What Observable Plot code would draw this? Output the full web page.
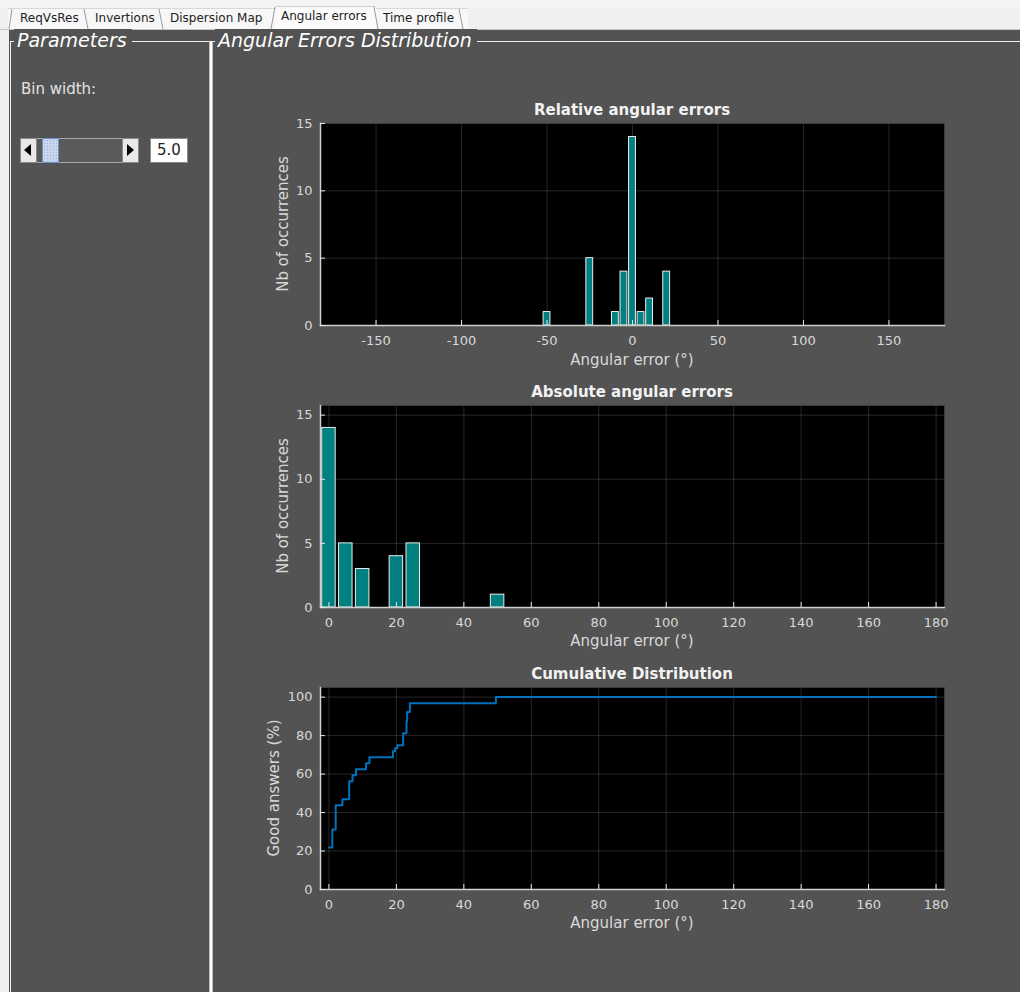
<!DOCTYPE html>
<html><head><meta charset="utf-8">
<script src="https://cdn.jsdelivr.net/npm/d3@7"></script>
<script src="https://cdn.jsdelivr.net/npm/@observablehq/plot@0.6"></script>
<style>
html,body{margin:0;padding:0;}
body{width:1020px;height:992px;position:relative;overflow:hidden;background:#efefef;font-family:"DejaVu Sans",sans-serif;}
.abs{position:absolute;}
.tab{position:absolute;top:11px;font-size:12px;color:#222;line-height:15px;white-space:nowrap;}
.ftitle{position:absolute;top:29px;font-size:19px;font-style:italic;color:#fff;line-height:23px;white-space:nowrap;background:#535353;padding:0 5px 0 3px;}
.ctitle{position:absolute;left:320px;width:624px;text-align:center;font-weight:bold;font-size:15px;color:#f2f2f2;line-height:18px;}
.xlab{position:absolute;left:320px;width:624px;text-align:center;font-size:15px;color:#d9d9d9;line-height:18px;}
.ylab{position:absolute;width:202px;text-align:center;font-size:15px;color:#d9d9d9;line-height:18px;transform:rotate(-90deg);transform-origin:center center;}
.chart{position:absolute;left:240px;}
</style>
</head><body>
<div class="abs" style="left:0;top:0;width:1020px;height:8px;background:#f4f4f4;"></div>
<div class="abs" style="left:8px;top:8px;width:460px;height:21px;background:#f7f7f7;border-top:1px solid #d8d8d8;"></div>
<div class="abs" style="left:276px;top:6px;width:100px;height:24px;background:#fbfbfb;border-top:1px solid #cfcfcf;"></div>
<div class="abs" style="left:0;top:29px;width:1020px;height:1px;background:#c8c8c8;"></div>
<svg class="abs" style="left:0;top:0" width="480" height="30">
  <g stroke="#9a9a9a" stroke-width="1" fill="none">
    <line x1="12" y1="9" x2="9" y2="29"/>
    <line x1="84" y1="9" x2="88" y2="29"/>
    <line x1="159" y1="9" x2="163" y2="29"/>
    <line x1="275" y1="7" x2="271" y2="29"/>
    <line x1="374" y1="7" x2="378" y2="29"/>
    <line x1="459" y1="9" x2="463" y2="29"/>
  </g>
</svg>
<div class="tab" style="left:20px;">ReqVsRes</div>
<div class="tab" style="left:95px;">Invertions</div>
<div class="tab" style="left:170px;">Dispersion Map</div>
<div class="tab" style="left:281px;top:9px;">Angular errors</div>
<div class="tab" style="left:383px;">Time profile</div>

<div class="abs" style="left:9px;top:30px;width:1011px;height:962px;background:#535353;"></div>
<!-- frames -->
<div class="abs" style="left:10px;top:41px;width:199px;height:1px;background:#f0f0f0;"></div>
<div class="abs" style="left:10px;top:41px;width:1px;height:951px;background:#f0f0f0;"></div>
<div class="abs" style="left:209px;top:41px;width:1px;height:951px;background:#bdbdbd;"></div>
<div class="abs" style="left:210px;top:41px;width:2px;height:951px;background:#ffffff;"></div>
<div class="abs" style="left:212px;top:41px;width:1px;height:951px;background:#bdbdbd;"></div>
<div class="abs" style="left:213px;top:41px;width:807px;height:1px;background:#f0f0f0;"></div>
<div class="ftitle" style="left:14px;">Parameters</div>
<div class="ftitle" style="left:215px;">Angular Errors Distribution</div>

<!-- parameters panel -->
<div class="abs" style="left:21px;top:80px;font-size:15px;color:#e2e2e2;line-height:18px;">Bin width:</div>
<div class="abs" style="left:37px;top:138px;width:86px;height:23px;background:#5a5a5a;border-top:1px solid #aaa;border-bottom:1px solid #aaa;"></div>
<div class="abs" style="left:20px;top:138px;width:15px;height:23px;background:#e8e8e8;border:1px solid #8a8a8a;"></div>
<div class="abs" style="left:24px;top:144px;width:0;height:0;border-top:6px solid transparent;border-bottom:6px solid transparent;border-right:7px solid #000;"></div>
<div class="abs" style="left:42px;top:138px;width:15px;height:23px;background:#c8d5ea;border:1px solid #6f8fc6;background-image:radial-gradient(#9fb2d3 1px, transparent 1px);background-size:3px 3px;"></div>
<div class="abs" style="left:122px;top:138px;width:15px;height:23px;background:#e8e8e8;border:1px solid #8a8a8a;"></div>
<div class="abs" style="left:127px;top:144px;width:0;height:0;border-top:6px solid transparent;border-bottom:6px solid transparent;border-left:7px solid #000;"></div>
<div class="abs" style="left:150px;top:138px;width:36px;height:23px;background:#fff;border:1px solid #8a8a8a;font-size:15px;color:#222;line-height:23px;text-align:center;">5.0</div>

<!-- chart titles and labels -->
<div class="ctitle" style="top:101px;">Relative angular errors</div>
<div class="ctitle" style="top:383px;">Absolute angular errors</div>
<div class="ctitle" style="top:665px;">Cumulative Distribution</div>
<div class="xlab" style="top:351px;">Angular error (°)</div>
<div class="xlab" style="top:632px;">Angular error (°)</div>
<div class="xlab" style="top:914px;">Angular error (°)</div>
<div class="ylab" style="left:182px;top:215px;">Nb of occurrences</div>
<div class="ylab" style="left:182px;top:497px;">Nb of occurrences</div>
<div class="ylab" style="left:173px;top:779px;">Good answers (%)</div>

<div id="c1" class="chart" style="top:113px;"></div>
<div id="c2" class="chart" style="top:395px;"></div>
<div id="c3" class="chart" style="top:677px;"></div>

<script>
// ---- data ----
const binWidth = 5;
const relCenters = [-50, -25, -10, -5, 0, 5, 10, 20];
const relCounts  = [1, 5, 1, 4, 14, 1, 2, 4];
const absCenters = [0, 5, 10, 20, 25, 50];
const absCounts  = [14, 5, 3, 4, 5, 1];
const cumError   = [0, 1, 2, 4, 6, 7, 8, 11, 12, 19, 19.6, 20.3, 22, 23, 23.2, 24, 49.5, 180];
const cumPercent = [21.875, 31.25, 43.75, 46.875, 56.25, 59.375, 62.5, 65.625, 68.75, 71.875, 73.4, 75, 81.25, 87.5, 92.3, 96.875, 100, 100];
const relXTicks = [-150, -100, -50, 0, 50, 100, 150];
const absXTicks = [0, 20, 40, 60, 80, 100, 120, 140, 160, 180];
const countYTicks = [0, 5, 10, 15];
const pctYTicks = [0, 20, 40, 60, 80, 100];

const relData = relCenters.map((c, i) => ({center: c, count: relCounts[i]}));
const absData = absCenters.map((c, i) => ({center: c, count: absCounts[i]}));
const cumData = cumError.map((e, i) => ({err: e, pct: cumPercent[i]}));
const half = binWidth * 0.8 / 2;
const fmt = d => String(d);

function chart(el, {xDomain, yDomain, xTicks, yTicks, marks}) {
  const svg = Plot.plot({
    width: 724, height: 257,
    marginLeft: 80, marginRight: 20, marginTop: 10, marginBottom: 45,
    style: {background: "transparent", color: "#d9d9d9", fontFamily: "DejaVu Sans", fontSize: "13px", overflow: "visible"},
    x: {domain: xDomain},
    y: {domain: yDomain},
    marks: [
      Plot.frame({fill: "black"}),
      Plot.gridX(xTicks, {stroke: "#ffffff", strokeOpacity: 0.15}),
      Plot.gridY(yTicks, {stroke: "#ffffff", strokeOpacity: 0.15}),
      Plot.frame({stroke: "#3a3a3a"}),
      ...marks,
      Plot.frame({anchor: "bottom", stroke: "#cfcfcf", strokeWidth: 1.5}),
      Plot.frame({anchor: "left", stroke: "#cfcfcf", strokeWidth: 1.5}),
      Plot.axisX(xTicks, {tickSize: -5, tickPadding: 15, stroke: "#e8e8e8", tickFormat: fmt, label: null}),
      Plot.axisY(yTicks, {tickSize: -5, tickPadding: 13, stroke: "#e8e8e8", tickFormat: fmt, label: null})
    ]
  });
  document.getElementById(el).appendChild(svg);
}

chart("c1", {
  xDomain: [-182.5, 182.5], yDomain: [0, 15], xTicks: relXTicks, yTicks: countYTicks,
  marks: [Plot.rectY(relData, {x1: d => d.center - half, x2: d => d.center + half, y: "count", fill: "#008080", stroke: "#ececec", strokeWidth: 1})]
});
chart("c2", {
  xDomain: [-2.5, 182.5], yDomain: [0, 15.75], xTicks: absXTicks, yTicks: countYTicks,
  marks: [Plot.rectY(absData, {x1: d => d.center - half, x2: d => d.center + half, y: "count", fill: "#008080", stroke: "#ececec", strokeWidth: 1})]
});
chart("c3", {
  xDomain: [-2.5, 182.5], yDomain: [0, 105], xTicks: absXTicks, yTicks: pctYTicks,
  marks: [Plot.line(cumData, {x: "err", y: "pct", curve: "step-after", stroke: "#0072BD", strokeWidth: 2})]
});
</script>
</body></html>
